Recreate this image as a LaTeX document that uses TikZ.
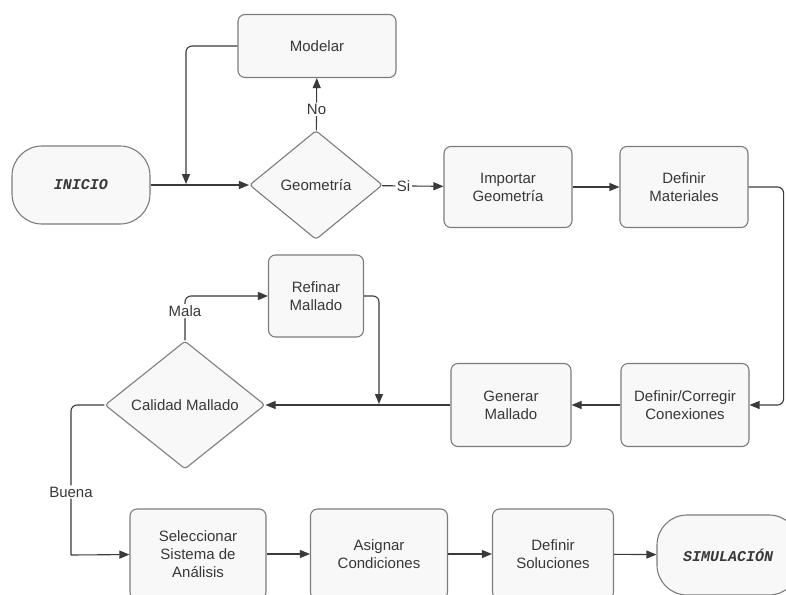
\documentclass[tikz,border=0pt]{standalone}
\usepackage{fontspec}
\setmainfont{Liberation Sans}
\setmonofont{Liberation Mono}
\usetikzlibrary{shapes.geometric, arrows.meta}
\definecolor{CLine}{HTML}{3A3A3A}
\definecolor{CBorder}{HTML}{7C7C7C}
\definecolor{CFill}{HTML}{F8F8F8}
\definecolor{CText}{HTML}{383838}

\begin{document}
\begin{tikzpicture}[x=1pt, y=-1pt, line width=1.1pt,
    every node/.style={text=CText, font=\fontsize{15}{18}\selectfont, align=center},
    proc/.style={draw=CBorder, fill=CFill, rounded corners=7pt, inner sep=0pt},
    term/.style={draw=CBorder, fill=CFill, rounded corners=30pt, inner sep=0pt,
        font=\fontsize{15}{18}\selectfont\ttfamily\bfseries\itshape},
    decision/.style={diamond, draw=CBorder, fill=CFill, rounded corners=3pt, inner sep=0pt},
    flow/.style={draw=CLine, rounded corners=6pt, -{Triangle[length=10pt, width=8pt]}},
    lbl/.style={fill=white, inner sep=1.5pt}]
    \useasboundingbox (0, 0) rectangle (786, 594);

    % top row
    \node [term, minimum width=138, minimum height=78] (inicio) at (81, 185) {INICIO};
    \node [decision, minimum width=133, minimum height=109] (geom) at (316, 185) {Geometría};
    \node [proc, minimum width=158, minimum height=63] (modelar) at (317, 46) {Modelar};
    \node [proc, minimum width=128, minimum height=81] (importar) at (508, 187) {Importar\\Geometría};
    \node [proc, minimum width=128, minimum height=81] (materiales) at (684, 187) {Definir\\Materiales};
    \coordinate (join1) at (186, 184);

    % middle row
    \node [proc, minimum width=128, minimum height=83] (conex) at (685, 405) {Definir/Corregir\\Conexiones};
    \node [proc, minimum width=120, minimum height=83] (generar) at (511, 405) {Generar\\Mallado};
    \node [decision, minimum width=160, minimum height=128] (calidad) at (185, 405) {Calidad Mallado};
    \node [proc, minimum width=95, minimum height=82] (refinar) at (316, 296) {Refinar\\Mallado};
    \coordinate (join2) at (379, 404);
    \coordinate (bend) at (71, 555);

    % bottom row
    \node [proc, minimum width=136, minimum height=90] (selec) at (198, 554) {Seleccionar\\Sistema de\\Análisis};
    \node [proc, minimum width=137, minimum height=90] (asignar) at (379, 554) {Asignar\\Condiciones};
    \node [proc, minimum width=121, minimum height=90] (soluc) at (553, 554) {Definir\\Soluciones};
    \node [term, minimum width=142, minimum height=80] (simul) at (728, 555) {SIMULACIÓN};

    % connectors
    \draw [flow] (inicio) -- (geom);
    \draw [flow] (geom) -- node [lbl, pos=0.4] {No} (modelar);
    \draw [flow] (modelar.west) -| (join1);
    \draw [flow] (geom) -- node [lbl, pos=0.35] {Si} (importar);
    \draw [flow] (importar) -- (materiales);
    \draw [flow] (materiales.east) -- ++(35, 0) |- (conex.east);
    \draw [flow] (conex) -- (generar);
    \draw [flow] (generar) -- (calidad);
    \draw [flow] (calidad.north) |- node [lbl, pos=0.33] {Mala} (refinar.west);
    \draw [flow] (refinar.east) -| (join2);
    \draw [draw=CLine, rounded corners=6pt] (calidad.west) -| node [lbl, pos=0.79] {Buena} (bend);
    \draw [flow] (bend) -- (selec);
    \draw [flow] (selec) -- (asignar);
    \draw [flow] (asignar) -- (soluc);
    \draw [flow] (soluc) -- (simul);
\end{tikzpicture}
\end{document}
